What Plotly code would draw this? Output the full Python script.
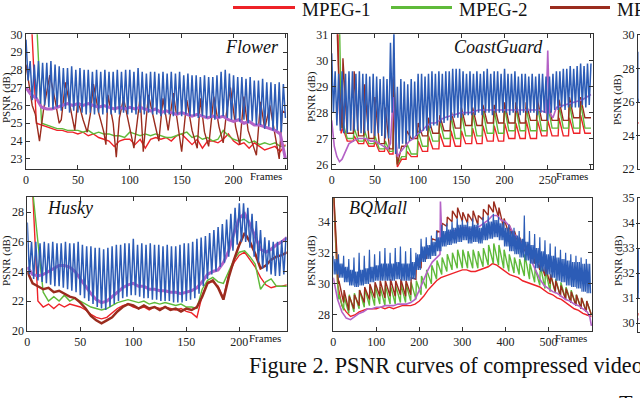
import plotly.graph_objects as go

# ---------------- DATA ----------------
# Flower (frames 0..250)
flower_blue_peak = [29.7, 28.5, 28.3, 28.5, 28.4, 28.4, 28.5, 28.3, 28.2, 28.1, 28.1, 28.2, 28.0, 28.1, 28.0, 28.0,
                    27.9, 28.0, 27.9, 28.0, 27.9, 27.9, 28.0, 27.9, 28.0, 28.0, 27.9, 28.1, 27.9, 27.8, 27.9, 27.9,
                    27.8, 27.9, 27.8, 27.9, 27.8, 27.9, 27.7, 27.8, 27.7, 27.7, 27.6, 27.7, 27.6, 27.6, 27.7, 27.9,
                    28.0, 27.8, 27.7, 27.6, 27.6, 27.5, 27.6, 27.4, 27.4, 27.5, 27.3, 27.3, 27.2, 27.3, 27.2]
flower_blue_trough = [27.4, 26.3, 26.4, 26.1, 26.0, 25.9, 25.8, 25.9, 25.7, 25.8, 25.6, 25.7, 25.6, 25.6, 25.5, 25.6,
                      25.5, 25.6, 25.5, 25.6, 25.5, 25.6, 25.5, 25.6, 25.5, 25.6, 25.5, 25.6, 25.5, 25.6, 25.5, 25.5,
                      25.4, 25.5, 25.5, 25.4, 25.5, 25.4, 25.5, 25.4, 25.4, 25.3, 25.4, 25.3, 25.3, 25.2, 25.3, 25.4,
                      25.3, 25.2, 25.2, 25.1, 25.2, 25.0, 25.1, 24.9, 24.9, 24.7, 24.8, 24.6, 24.6, 24.5, 25.3]
flower_frames = list(range(0, 251, 5))
flower_red = [31, 31, 25.0, 24.9, 24.8, 24.7, 24.6, 24.6, 24.5, 24.5, 24.4, 24.5, 24.3, 24.4, 24.2, 24.1, 24.0,
              23.7, 24.0, 24.1, 24.1, 23.8, 24.1, 23.6, 24.1, 24.2, 24.1, 24.2, 24.0, 24.3, 24.4, 24.1, 23.8,
              24.1, 23.6, 24.0, 24.0, 23.9, 24.1, 24.4, 24.0, 23.8, 23.9, 23.6, 23.9, 23.7, 23.5, 23.6, 23.7,
              23.4, 23.8]
flower_green = [31, 31, 31, 25.0, 24.9, 24.8, 24.7, 24.7, 24.6, 24.6, 24.6, 24.5, 24.6, 24.4, 24.5, 24.4, 24.4,
                24.3, 24.3, 24.2, 24.5, 24.4, 24.3, 24.4, 24.3, 24.4, 24.3, 24.2, 24.2, 24.3, 24.4, 24.5, 24.2,
                24.3, 24.1, 24.2, 24.0, 24.1, 24.6, 24.3, 24.1, 24.0, 24.1, 23.9, 24.0, 23.8, 23.9, 23.8, 23.9,
                23.7, 23.7]
flower_purple = [27.0, 26.6, 26.4, 25.9, 25.8, 25.8, 25.9, 26.0, 26.1, 26.0, 26.1, 26.0, 26.1, 26.0, 25.9, 26.0,
                 25.9, 25.8, 25.9, 25.8, 25.9, 25.8, 25.9, 25.8, 25.7, 25.8, 25.6, 25.7, 25.6, 25.5, 25.6, 25.5,
                 25.4, 25.5, 25.4, 25.3, 25.4, 25.3, 25.4, 25.2, 25.1, 25.2, 25.0, 25.1, 24.9, 24.9, 24.8, 24.7,
                 24.6, 24.4, 23.0]
flower_brown_frames = [0, 3, 6, 9, 13, 17, 23, 28, 32, 34, 38, 43, 47, 50, 55, 59, 62, 65, 70, 75, 77, 79, 84, 87,
                       90, 94, 100, 104, 107, 110, 113, 115, 118, 124, 128, 132, 137, 142, 147, 150, 155, 160, 165,
                       168, 172, 176, 181, 186, 190, 193, 197, 202, 206, 210, 214, 218, 222, 226, 230, 235, 240,
                       244, 247, 250]
flower_brown = [28.3, 27.0, 26.0, 25.5, 24.0, 25.8, 27.7, 26.3, 25.0, 25.2, 27.3, 25.8, 24.6, 26.3, 25.2, 24.5,
                25.5, 27.2, 25.6, 24.5, 23.8, 26.6, 25.0, 23.1, 25.3, 26.4, 24.8, 23.6, 25.0, 26.5, 23.4, 24.6,
                26.6, 25.0, 24.0, 26.4, 24.6, 26.7, 24.8, 23.4, 26.3, 24.6, 23.6, 26.4, 24.5, 23.7, 26.5, 24.8,
                23.9, 25.5, 27.0, 24.8, 23.8, 26.5, 24.6, 23.9, 23.2, 26.2, 24.7, 26.0, 24.3, 23.0, 25.7, 25.6]

# CoastGuard (frames 0..300)
cg_blue_peak = [30.3, 29.6, 29.5, 29.6, 29.5, 29.6, 29.6, 29.5, 29.6, 29.5, 29.5, 29.4, 29.5, 29.4, 29.3, 29.4,
                29.3, 30.7, 31.1, 29.0, 29.3, 29.2, 29.1, 29.3, 29.2, 29.5, 29.5, 29.4, 29.5, 29.6, 29.5, 29.6,
                29.5, 29.6, 29.6, 29.7, 29.7, 29.7, 29.6, 29.5, 29.6, 29.5, 29.6, 29.5, 29.6, 29.7, 29.5, 29.6,
                29.6, 29.5, 29.7, 29.5, 29.5, 29.6, 29.4, 29.5, 29.5, 29.4, 29.5, 29.4, 29.5, 29.5, 29.4, 29.4,
                29.5, 29.6, 29.6, 29.7, 29.7, 29.8, 29.7, 29.8, 29.9, 29.8, 29.9, 29.9]
cg_blue_trough = [28.0, 27.5, 27.3, 27.2, 27.2, 27.3, 27.3, 27.3, 27.2, 27.2, 27.3, 27.2, 27.1, 27.2, 27.1, 27.0,
                  27.0, 28.0, 26.4, 26.6, 26.8, 26.8, 26.9, 27.0, 27.1, 27.2, 27.3, 27.3, 27.4, 27.5, 27.5, 27.6,
                  27.6, 27.7, 27.7, 27.8, 27.8, 27.8, 27.9, 27.9, 27.9, 27.9, 28.0, 27.9, 28.0, 28.0, 27.9, 28.0,
                  28.0, 28.0, 28.0, 27.9, 28.0, 28.0, 27.9, 28.0, 28.0, 28.0, 28.0, 27.9, 28.0, 28.0, 27.7, 28.0,
                  28.1, 28.1, 28.2, 28.1, 28.2, 28.2, 28.2, 28.2, 28.3, 28.2, 28.3]
cg_gop = [13, 26, 38, 50, 62, 72, 76, 87, 100, 112, 125, 138, 150, 163, 175, 188, 200, 213, 225, 238, 250, 263,
          275, 288]
cg_red_start_frames = [0, 7, 9, 11]
cg_red_start = [31.5, 31.5, 28.0, 27.2]
cg_red_peak = [27.4, 27.1, 27.0, 26.9, 26.7, 29.2, 25.9, 26.5, 26.9, 27.1, 27.2, 27.3, 27.3, 27.4, 27.5, 27.5,
               27.6, 27.6, 27.7, 27.7, 27.7, 27.8, 27.8, 27.9]
cg_red_low = [26.9, 26.8, 26.7, 26.5, 26.4, 26.3, 26.2, 26.3, 26.5, 26.6, 26.7, 26.7, 26.8, 26.8, 26.9, 26.9,
              27.0, 27.0, 27.0, 27.1, 27.1, 27.1, 27.2, 27.2]
cg_green_start_frames = [0, 9, 11, 12]
cg_green_start = [31.5, 31.5, 28.0, 27.4]
cg_green_peak = [27.6, 27.4, 27.3, 27.1, 26.9, 29.3, 26.0, 26.8, 27.3, 27.5, 27.7, 27.9, 28.0, 28.0, 28.1, 28.1,
                 28.2, 28.2, 28.2, 28.3, 28.3, 28.3, 28.4, 28.4]
cg_green_low = [27.0, 26.9, 26.8, 26.6, 26.5, 26.5, 26.3, 26.4, 26.7, 26.9, 27.0, 27.0, 27.1, 27.1, 27.2, 27.2,
                27.3, 27.3, 27.3, 27.3, 27.4, 27.4, 27.4, 27.4]
cg_brown_start_frames = [0, 6, 8, 10, 12]
cg_brown_start = [31.5, 31.5, 29.5, 28.2, 27.4]
cg_brown_peak = [30.1, 29.6, 29.1, 28.6, 28.2, 29.4, 26.0, 27.3, 27.6, 27.8, 27.9, 28.1, 28.2, 28.2, 28.3, 28.3,
                 28.4, 28.4, 28.4, 28.5, 28.5, 28.5, 28.6, 28.6]
cg_brown_low = [27.2, 27.1, 27.0, 26.8, 26.6, 26.5, 26.7, 27.0, 27.1, 27.2, 27.3, 27.4, 27.5, 27.5, 27.6, 27.6,
                27.6, 27.6, 27.7, 27.7, 27.7, 27.7, 27.8, 27.8]
cg_purple_frames = [0, 3, 6, 9, 12, 16, 20, 25, 30, 35, 40, 45, 50, 55, 60, 65, 68, 71, 73, 76, 80, 85, 90, 95,
                    100, 105, 110, 115, 120, 125, 130, 140, 150, 160, 170, 180, 190, 200, 210, 220, 230, 240,
                    248, 250, 252, 256, 260, 270, 280, 290, 300]
cg_purple = [27.7, 26.7, 26.3, 26.1, 26.2, 26.5, 26.8, 26.9, 27.0, 27.0, 27.0, 26.9, 26.9, 26.8, 26.7, 26.6, 26.8,
             28.6, 27.6, 26.3, 26.5, 26.7, 26.9, 27.0, 27.2, 27.3, 27.5, 27.6, 27.6, 27.7, 27.8, 27.9, 28.0, 28.0,
             28.1, 28.1, 28.1, 28.1, 28.1, 28.1, 28.1, 28.1, 28.0, 30.4, 28.0, 27.8, 28.2, 28.3, 28.4, 28.5, 28.7]

# Husky (frames 0..245)
husky_blue_peak = [27.3, 26.0, 26.0, 25.9, 26.0, 25.9, 26.0, 25.9, 25.9, 26.0, 25.9, 25.9, 26.0, 25.8, 25.7, 25.7,
                   25.6, 25.6, 25.5, 25.6, 25.7, 25.8, 25.8, 25.9, 25.9, 26.2, 25.8, 25.9, 25.8, 25.9, 25.8, 25.8,
                   25.7, 25.8, 25.7, 25.7, 25.8, 25.9, 25.9, 26.0, 26.2, 26.3, 26.4, 26.6, 26.8, 27.0, 27.2, 27.5,
                   27.9, 28.3, 28.6, 28.6, 28.3, 27.9, 27.4, 26.8, 26.3, 26.1, 26.0, 26.0, 26.1, 26.3]
husky_blue_trough = [23.8, 23.5, 23.4, 23.3, 23.2, 23.1, 23.0, 23.0, 22.9, 22.8, 22.7, 22.6, 22.4, 22.2, 22.0, 21.8,
                     21.6, 21.5, 21.4, 21.6, 21.8, 22.0, 22.2, 22.3, 22.4, 22.4, 22.3, 22.2, 22.2, 22.1, 22.1, 22.0,
                     22.0, 22.0, 21.9, 21.9, 21.9, 22.0, 22.1, 22.2, 22.5, 23.0, 23.5, 23.8, 24.0, 24.3, 24.6, 25.0,
                     25.4, 25.8, 26.0, 26.0, 25.6, 25.0, 24.6, 24.2, 24.0, 23.8, 23.7, 23.7, 23.8]
husky_frames = list(range(0, 246, 5))
husky_red = [29.5, 29.5, 22.0, 21.6, 21.8, 21.5, 21.8, 21.6, 21.8, 21.7, 21.6, 21.4, 21.1, 20.9, 20.8, 20.9, 21.2,
             21.5, 21.7, 21.8, 21.6, 21.5, 21.6, 21.4, 21.6, 21.5, 21.6, 21.5, 21.4, 21.5, 21.3, 21.2, 20.9, 22.4,
             23.3, 23.3, 23.0, 22.2, 23.8, 24.6, 25.1, 25.3, 24.8, 24.3, 23.6, 23.1, 22.9, 23.0, 23.0, 23.1]
husky_green = [29.5, 29.5, 26.0, 22.6, 22.0, 22.3, 22.0, 22.4, 22.0, 22.2, 22.0, 21.8, 21.6, 21.5, 21.4, 21.5,
               21.7, 21.9, 22.0, 22.1, 22.0, 21.9, 22.0, 21.8, 21.9, 21.8, 21.9, 21.8, 21.7, 21.8, 21.6, 21.6,
               21.5, 22.8, 23.4, 23.6, 23.3, 23.2, 24.0, 24.8, 25.3, 25.4, 25.0, 24.5, 22.8, 23.3, 23.5, 23.0,
               23.0, 23.0]
husky_brown = [24.0, 23.2, 23.0, 22.8, 22.9, 22.6, 22.7, 22.5, 22.3, 22.2, 21.9, 21.5, 21.0, 20.7, 20.5, 20.7,
               20.9, 21.3, 21.6, 21.8, 21.7, 21.5, 21.7, 21.5, 21.6, 21.4, 21.6, 21.4, 21.5, 21.3, 21.5, 21.4,
               21.6, 22.3, 23.2, 23.4, 22.9, 22.1, 23.6, 24.8, 25.8, 26.6, 26.0, 25.2, 24.2, 24.4, 24.8, 25.0,
               25.1, 25.3]
husky_purple = [24.3, 23.8, 23.7, 23.8, 24.0, 24.2, 24.4, 24.4, 24.3, 24.0, 23.5, 23.0, 22.5, 22.1, 21.9, 22.0,
                22.3, 22.6, 22.9, 23.1, 23.2, 23.0, 23.0, 22.8, 22.8, 22.7, 22.7, 22.6, 22.6, 22.5, 22.6, 22.7,
                22.9, 23.3, 23.8, 24.0, 24.1, 24.6, 25.4, 26.6, 27.6, 27.9, 27.2, 26.4, 25.5, 25.3, 25.5, 25.8,
                26.0, 26.3]

# BQMall (frames 0..600), 12-frame cycles
bq_blue_spike = [31.8, 31.9, 31.8, 31.6, 31.7, 32.0, 31.8, 32.2, 31.9, 32.1, 32.3, 32.0, 32.3, 32.4, 32.1, 32.3,
                 32.0, 32.9, 33.0, 33.1, 33.4, 33.8, 33.9, 34.0, 34.2, 34.1, 34.0, 34.2, 33.9, 34.3, 34.4, 34.5,
                 34.3, 34.0, 33.8, 33.6, 33.4, 34.4, 33.4, 33.2, 33.0, 32.8, 32.6, 32.4, 32.2, 32.0, 31.9, 31.8,
                 31.7, 31.6]
bq_blue_hi = [31.6, 31.3, 31.1, 30.9, 30.8, 30.9, 31.0, 31.1, 31.2, 31.3, 31.3, 31.3, 31.4, 31.3, 31.3, 31.4,
              31.9, 32.4, 32.5, 32.7, 33.0, 33.4, 33.5, 33.6, 33.8, 33.8, 33.7, 33.8, 33.6, 33.9, 34.0, 34.1,
              33.9, 33.6, 33.4, 33.1, 32.9, 32.7, 32.5, 32.3, 32.1, 31.9, 31.8, 31.7, 31.6, 31.5, 31.4, 31.4,
              31.3, 31.3]
bq_blue_lo = [30.6, 30.4, 30.1, 29.9, 29.8, 29.9, 30.0, 30.1, 30.2, 30.2, 30.2, 30.2, 30.3, 30.2, 30.2, 30.3,
              30.9, 31.4, 31.6, 31.8, 32.1, 32.4, 32.5, 32.6, 32.7, 32.8, 32.6, 32.7, 32.6, 32.8, 32.9, 33.0,
              32.8, 32.4, 32.1, 31.9, 31.7, 31.5, 31.3, 31.0, 30.8, 30.6, 30.4, 30.2, 30.1, 29.9, 29.8, 29.7,
              29.5, 29.4]
bq_frames = list(range(0, 601, 10))
bq_red = [35.8, 30.0, 28.6, 28.2, 27.9, 28.0, 28.2, 28.3, 28.4, 28.4, 28.4, 28.5, 28.4, 28.5, 28.4, 28.5, 28.6,
          28.6, 28.6, 28.7, 28.9, 29.2, 29.6, 29.9, 30.2, 30.4, 30.5, 30.6, 30.7, 30.8, 30.9, 30.9, 30.8, 30.8,
          30.9, 31.0, 31.1, 31.3, 31.2, 31.0, 30.8, 30.6, 30.5, 30.4, 30.2, 30.1, 30.0, 29.9, 29.8, 29.6, 29.4,
          29.3, 29.1, 29.0, 28.8, 28.6, 28.4, 28.3, 28.1, 28.0, 27.9]
bq_green_peak = [35.8, 29.3, 29.2, 29.3, 29.4, 29.6, 29.7, 29.8, 29.9, 29.8, 29.9, 29.9, 29.9, 30.0, 30.0, 30.1,
                 30.2, 30.5, 30.9, 31.2, 31.5, 31.7, 31.9, 32.0, 32.2, 32.2, 32.1, 32.2, 32.1, 32.3, 32.5, 32.6,
                 32.5, 32.2, 31.9, 31.7, 31.6, 31.9, 31.3, 31.0, 31.2, 30.9, 30.6, 30.3, 30.1, 29.8, 29.6, 29.3,
                 29.1, 28.9]
bq_green_low = [35.8, 29.0, 28.3, 28.1, 28.2, 28.4, 28.5, 28.6, 28.6, 28.7, 28.6, 28.7, 28.7, 28.8, 28.8, 28.9,
                29.0, 29.3, 29.7, 30.0, 30.3, 30.6, 30.8, 30.9, 31.0, 31.0, 31.0, 31.0, 31.0, 31.1, 31.2, 31.3,
                31.2, 31.0, 30.8, 30.7, 30.6, 30.5, 30.3, 30.1, 29.9, 29.7, 29.5, 29.4, 29.2, 29.0, 28.8, 28.6,
                28.4, 28.2, 28.0]
bq_brown_peak = [35.8, 30.2, 29.6, 29.2, 29.3, 29.6, 29.8, 30.0, 30.1, 30.2, 30.2, 30.3, 30.2, 30.3, 30.2, 30.4,
                 31.3, 31.8, 32.3, 32.9, 33.4, 33.9, 34.3, 34.7, 34.9, 34.6, 34.5, 34.7, 34.4, 34.8, 35.1, 35.3,
                 34.9, 34.2, 33.8, 33.4, 33.0, 32.7, 32.3, 31.9, 31.5, 31.1, 30.6, 30.2, 29.9, 29.7, 29.5, 29.3,
                 29.1, 28.9]
bq_brown_low = [35.8, 30.0, 28.8, 28.3, 28.4, 28.6, 28.8, 29.0, 29.1, 29.2, 29.1, 29.2, 29.2, 29.3, 29.2, 29.3,
                30.3, 31.0, 31.6, 32.2, 32.8, 33.3, 33.7, 34.0, 34.2, 34.0, 33.9, 34.0, 33.8, 34.1, 34.4, 34.6,
                34.3, 33.6, 33.2, 32.8, 32.4, 32.1, 31.7, 31.3, 30.9, 30.5, 30.0, 29.5, 29.2, 29.0, 28.8, 28.6,
                28.4, 28.2, 28.0]
bq_purple_frames = [0, 10, 20, 30, 40, 50, 60, 70, 80, 90, 100, 110, 120, 130, 140, 150, 160, 170, 180, 190, 200,
                    210, 220, 230, 240, 248, 249, 252, 260, 270, 280, 290, 300, 310, 320, 330, 340, 350, 360, 370,
                    380, 390, 400, 410, 420, 430, 440, 450, 460, 470, 480, 490, 500, 510, 520, 530, 540, 550, 560,
                    570, 580, 590, 596, 600]
bq_purple = [30.4, 29.0, 28.2, 27.8, 27.7, 27.9, 28.1, 28.2, 28.4, 28.4, 28.5, 28.5, 28.6, 28.6, 28.6, 28.7, 28.7,
             28.7, 28.8, 29.0, 29.6, 30.3, 30.9, 31.4, 31.7, 31.9, 35.3, 33.2, 33.1, 33.3, 33.4, 33.5, 33.6, 33.6,
             33.5, 33.6, 33.7, 33.9, 34.1, 34.4, 34.4, 34.1, 34.0, 33.7, 33.2, 32.9, 32.5, 32.1, 31.5, 30.9, 30.3,
             29.9, 29.7, 29.5, 29.4, 29.2, 29.0, 28.9, 28.7, 28.6, 28.4, 28.2, 27.9, 27.3]

# Third column (only its left edge is visible)
c3_frames = [0, 1, 2, 3]
c3top_blue = [29.0, 26.0, 28.8, 26.2]
c3top_red = [24.8, 24.7, 24.8, 24.7]
c3bot_blue = [32.9, 31.0, 33.0, 31.2]
c3bot_red = [30.4, 30.3, 30.4, 30.3]
c3bot_purple = [30.2, 30.1, 30.2, 30.1]

legend_names = ["MPEG-1", "MPEG-2", "MPEG-4", "H.264", "HEVC"]
panel_titles = ["Flower", "CoastGuard", "Husky", "BQMall"]
caption = "Figure 2. PSNR curves of compressed video by various compression standards."

# tick values / labels
flower_yticks = [23, 24, 25, 26, 27, 28, 29, 30]
flower_xticks = [0, 50, 100, 150, 200, 250]
flower_xlabels = ["0", "50", "100", "150", "200", ""]
cg_yticks = [26, 27, 28, 29, 30, 31]
cg_xticks = [0, 50, 100, 150, 200, 250, 300]
cg_xlabels = ["0", "50", "100", "150", "200", "250", ""]
husky_yticks = [20, 22, 24, 26, 28]
husky_xticks = [0, 50, 100, 150, 200]
husky_xlabels = ["0", "50", "100", "150", "200"]
bq_yticks = [28, 30, 32, 34]
bq_xticks = [0, 100, 200, 300, 400, 500, 600]
bq_xlabels = ["0", "100", "200", "300", "400", "500", ""]
c3top_yticks = [22, 24, 26, 28, 30]
c3bot_yticks = [30, 31, 32, 33, 34, 35]

# ---------------- helpers ----------------
W, H = 640, 398
SERIF = "Liberation Serif"
COL = {"red": "#ee2228", "green": "#5fba3a", "brown": "#9a2c1e", "purple": "#b462c6", "blue": "#2c5cb6"}


def fx(p):
    return p / W


def fy(p):
    return 1 - p / H


def zig(peaks, troughs, period):
    xs, ys = [], []
    for i, p in enumerate(peaks):
        xs.append(period * i)
        ys.append(p)
        if i < len(troughs):
            xs.append(period * i + period / 2)
            ys.append(troughs[i])
    return xs, ys


def saw(start_x, start_y, gop, peaks, lows, end):
    # sharp rise at each GOP start, fall to the read base level, flat base until the next GOP
    xs, ys = list(start_x), list(start_y)
    for i, g in enumerate(gop):
        nxt = gop[i + 1] - 1 if i + 1 < len(gop) else end
        knee = min(g + 5, nxt)
        xs += [g, knee, nxt]
        ys += [peaks[i], lows[i], lows[i]]
    return xs, ys


def cyc_saw(peaks, lows, period):
    xs, ys = [], []
    for i, p in enumerate(peaks):
        xs += [period * i, period * i + 1]
        ys += [lows[i], p]
    if len(lows) > len(peaks):
        xs.append(period * len(peaks))
        ys.append(lows[len(peaks)])
    return xs, ys


def band(spikes, his, los, period):
    xs, ys = [], []
    step = period / 6
    for i, s in enumerate(spikes):
        b = period * i
        xs += [b, b + step, b + 2 * step, b + 3 * step, b + 4 * step, b + 5 * step]
        ys += [s, los[i], his[i], los[i], his[i], los[i]]
    return xs, ys


fig = go.Figure()


def add(xs, ys, color, n, width=1.4):
    fig.add_trace(go.Scatter(x=xs, y=ys, mode="lines", line=dict(color=COL[color], width=width),
                             xaxis="x" + ("" if n == 1 else str(n)), yaxis="y" + ("" if n == 1 else str(n)),
                             showlegend=False, hoverinfo="skip"))


# Panel 1: Flower
add(flower_frames, flower_red, "red", 1)
add(flower_frames, flower_green, "green", 1)
add(flower_brown_frames, flower_brown, "brown", 1)
add(flower_frames, flower_purple, "purple", 1, 3)
bx, by = zig(flower_blue_peak, flower_blue_trough, 4)
add(bx, by, "blue", 1, 1.5)

# Panel 2: CoastGuard
x, y = saw(cg_red_start_frames, cg_red_start, cg_gop, cg_red_peak, cg_red_low, 300)
add(x, y, "red", 2)
x, y = saw(cg_green_start_frames, cg_green_start, cg_gop, cg_green_peak, cg_green_low, 300)
add(x, y, "green", 2)
x, y = saw(cg_brown_start_frames, cg_brown_start, cg_gop, cg_brown_peak, cg_brown_low, 300)
add(x, y, "brown", 2)
add(cg_purple_frames, cg_purple, "purple", 2, 1.6)
bx, by = zig(cg_blue_peak, cg_blue_trough, 4)
add(bx, by, "blue", 2, 1.5)

# Panel 3: third column top (cut off)
add(c3_frames, c3top_red, "red", 3, 1)
add(c3_frames, c3top_blue, "blue", 3, 1)

# Panel 4: Husky
add(husky_frames, husky_red, "red", 4)
add(husky_frames, husky_green, "green", 4)
add(husky_frames, husky_brown, "brown", 4, 2.5)
add(husky_frames, husky_purple, "purple", 4, 3)
bx, by = zig(husky_blue_peak, husky_blue_trough, 4)
add(bx, by, "blue", 4, 1.5)

# Panel 5: BQMall
add(bq_frames, bq_red, "red", 5)
x, y = cyc_saw(bq_green_peak, bq_green_low, 12)
add(x, y, "green", 5)
x, y = cyc_saw(bq_brown_peak, bq_brown_low, 12)
add(x, y, "brown", 5)
add(bq_purple_frames, bq_purple, "purple", 5, 1.6)
bx, by = band(bq_blue_spike, bq_blue_hi, bq_blue_lo, 12)
add(bx, by, "blue", 5, 1.2)

# Panel 6: third column bottom (cut off)
add(c3_frames, c3bot_red, "red", 6, 1)
add(c3_frames, c3bot_purple, "purple", 6, 1)
add(c3_frames, c3bot_blue, "blue", 6, 1)

# ---------------- axes ----------------
panels = [
    # (x px domain, y px domain (top,bottom), xrange, yrange, xticks, xlabels, yticks)
    ((26, 287), (34.3, 169), [0, 251.5], [22.43, 30.0], flower_xticks, flower_xlabels, flower_yticks),
    ((331.7, 592.7), (34.3, 169), [0, 302], [25.82, 31.03], cg_xticks, cg_xlabels, cg_yticks),
    ((638, 640), (35, 169), [0, 250], [22, 30], [0], ["0"], c3top_yticks),
    ((27.3, 286.7), (197, 330.7), [0, 244.7], [20, 29.03], husky_xticks, husky_xlabels, husky_yticks),
    ((333.3, 592.3), (197.7, 331), [0, 602], [26.97, 35.54], bq_xticks, bq_xlabels, bq_yticks),
    ((638, 640), (197.7, 332), [0, 600], [29.64, 35.02], [0], ["0"], c3bot_yticks),
]

layout = dict(width=W, height=H, margin=dict(l=0, r=0, t=0, b=0, autoexpand=False), paper_bgcolor="white",
              plot_bgcolor="white", showlegend=False, template="none")
common = dict(ticks="inside", ticklen=4, tickwidth=1, tickcolor="#333", showline=True, linecolor="#333",
              linewidth=1, mirror="ticks", showgrid=False, zeroline=False, fixedrange=True, automargin=False,
              tickfont=dict(family=SERIF, size=12, color="#222"))
for i, (xd, yd, xr, yr, xt, xl, yt) in enumerate(panels, start=1):
    s = "" if i == 1 else str(i)
    layout["xaxis" + s] = dict(domain=[fx(xd[0]), fx(xd[1])], range=xr, tickmode="array", tickvals=xt,
                               ticktext=xl, anchor="y" + s, **common)
    layout["yaxis" + s] = dict(domain=[fy(yd[1]), fy(yd[0])], range=yr, tickmode="array", tickvals=yt,
                               ticktext=[str(v) for v in yt], anchor="x" + s, **common)
fig.update_layout(**layout)


def note(text, cx, cy, size, xanchor="center", **kw):
    return dict(text=text, x=fx(cx), y=fy(cy), xref="paper", yref="paper", showarrow=False,
                xanchor=xanchor, yanchor="middle", font=dict(family=SERIF, size=size, color="#111", **kw))


ann = []
# panel titles
for t, (cx, cy) in zip(panel_titles, [(252, 47), (498, 47), (70, 208), (378, 208)]):
    ann.append(note(t, cx, cy, 18, style="italic"))
# y axis titles
for cx, cy in [(6, 98), (311, 97), (618, 100), (6, 261), (311, 261), (618, 261)]:
    a = note("PSNR (dB)", cx, cy, 11)
    a["textangle"] = -90
    ann.append(a)
# "Frames" labels
for rx, cy in [(284, 176), (590, 176), (283, 338), (589, 338)]:
    ann.append(note("Frames", rx, cy, 11, xanchor="right"))
# legend (only the left part is visible)
shapes = []
for (x0, x1), tx, name, c in zip([(233, 295), (391, 452), (550, 610)], [300, 457, 615], legend_names,
                                 ["red", "green", "brown"]):
    shapes.append(dict(type="line", xref="paper", yref="paper", x0=fx(x0), x1=fx(x1), y0=fy(7.5), y1=fy(7.5),
                       line=dict(color=COL[c], width=3)))
    ann.append(note(name, tx, 9, 19, xanchor="left"))
# caption
ann.append(note(caption, 247, 365, 22.2, xanchor="left"))
ann.append(note("T", 617, 403, 22.2, xanchor="left"))
fig.update_layout(annotations=ann, shapes=shapes)

fig.write_html("out.html", config={"displayModeBar": False, "staticPlot": True},
               post_script="document.body.style.margin='0px';document.body.style.overflow='hidden';")
